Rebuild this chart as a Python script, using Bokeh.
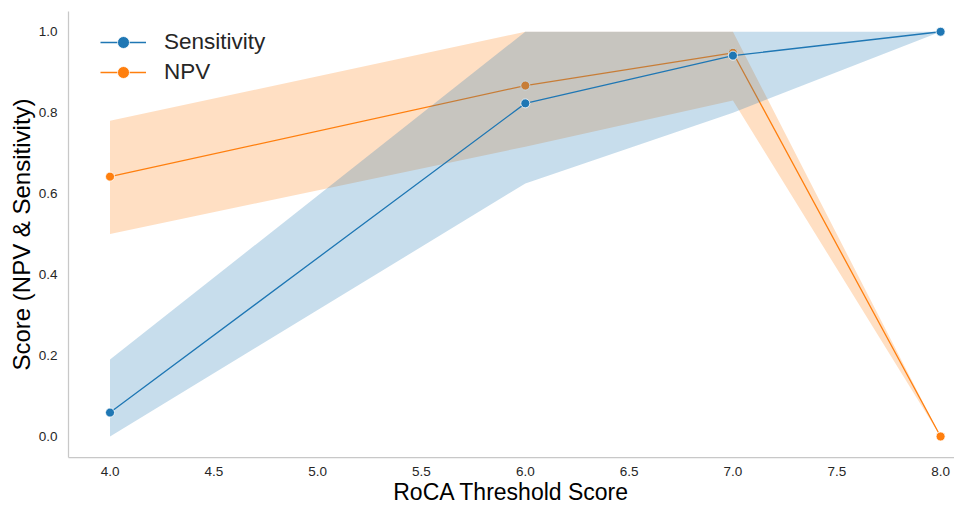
from bokeh.plotting import figure
from bokeh.models import Range1d, FixedTicker, NumeralTickFormatter, Legend, LegendItem
from bokeh.embed import file_html
from bokeh.resources import INLINE

# ---- data ----
thresholds = [4, 6, 7, 8]
sensitivity = [0.059, 0.823, 0.941, 1.0]
sensitivity_lo = [0.0, 0.625, 0.80, 1.0]
sensitivity_hi = [0.19, 1.0, 1.0, 1.0]
npv = [0.642, 0.867, 0.948, 0.0]
npv_lo = [0.50, 0.716, 0.83, 0.0]
npv_hi = [0.78, 1.0, 1.0, 0.0]
x_ticks = [4.0, 4.5, 5.0, 5.5, 6.0, 6.5, 7.0, 7.5, 8.0]
y_ticks = [0.0, 0.2, 0.4, 0.6, 0.8, 1.0]

BLUE = "#1f77b4"
ORANGE = "#ff7f0e"
TXT = "#262626"
FONT = "Liberation Sans"

p = figure(width=954, height=509, output_backend="svg", toolbar_location=None,
           x_range=Range1d(3.8, 8.067), y_range=Range1d(-0.052, 1.05),
           min_border_left=68, min_border_right=0, min_border_top=11, min_border_bottom=52)
p.outline_line_color = None
p.background_fill_color = "white"
p.border_fill_color = "white"
p.xgrid.visible = False
p.ygrid.visible = False

# NPV
p.varea(x=thresholds, y1=npv_lo, y2=npv_hi, fill_color=ORANGE, fill_alpha=0.25)
npv_line = p.line(thresholds, npv, line_color=ORANGE, line_width=1.3)
npv_pts = p.scatter(thresholds, npv, size=9, fill_color=ORANGE, line_color="white", line_width=0.8)

# Sensitivity
p.varea(x=thresholds, y1=sensitivity_lo, y2=sensitivity_hi, fill_color=BLUE, fill_alpha=0.25)
sens_line = p.line(thresholds, sensitivity, line_color=BLUE, line_width=1.3)
sens_pts = p.scatter(thresholds, sensitivity, size=9, fill_color=BLUE, line_color="white", line_width=0.8)

# axes
for ax in (p.xaxis[0], p.yaxis[0]):
    ax.axis_line_color = "#c8c8c8"
    ax.axis_line_width = 1.25
    ax.major_tick_line_color = None
    ax.minor_tick_line_color = None
    ax.major_label_text_font = FONT
    ax.major_label_text_font_size = "13.5px"
    ax.major_label_text_color = TXT
    ax.axis_label_text_font = FONT
    ax.axis_label_text_font_style = "normal"
    ax.axis_label_text_color = "black"
    ax.formatter = NumeralTickFormatter(format="0.0")

p.xaxis.ticker = FixedTicker(ticks=x_ticks)
p.yaxis.ticker = FixedTicker(ticks=y_ticks)
p.xaxis.axis_label = "RoCA Threshold Score"
p.yaxis.axis_label = "Score (NPV & Sensitivity)"
p.xaxis.axis_label_text_font_size = "23px"
p.yaxis.axis_label_text_font_size = "24px"
p.xaxis.major_label_standoff = 3
p.xaxis.axis_label_standoff = 0
p.yaxis.major_label_standoff = 5
p.yaxis.axis_label_standoff = 1

legend = Legend(items=[
    LegendItem(label="Sensitivity", renderers=[sens_line, sens_pts]),
    LegendItem(label="NPV", renderers=[npv_line, npv_pts]),
], location=(32, 370))
legend.padding = 0
legend.margin = 0
legend.spacing = 0
legend.glyph_width = 46
legend.glyph_height = 30
legend.label_height = 30
legend.label_standoff = 18
legend.label_text_font = FONT
legend.label_text_font_size = "22.5px"
legend.label_text_color = TXT
legend.border_line_color = None
legend.background_fill_alpha = 0
p.add_layout(legend)

open("out.html", "w").write(file_html(p, INLINE))
